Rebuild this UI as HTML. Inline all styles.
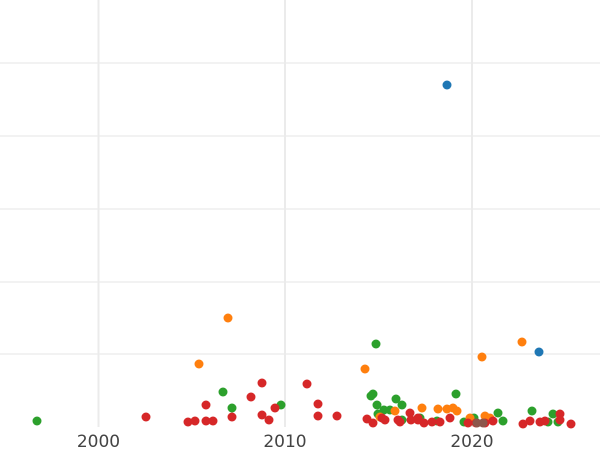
<!DOCTYPE html>
<html><head><meta charset="utf-8"><style>html,body{margin:0;padding:0;background:#fff}svg{display:block}</style></head>
<body>
<svg width="600" height="450" xmlns="http://www.w3.org/2000/svg">
<g stroke="#ebebeb" stroke-width="1.2">
<line x1="0" y1="63" x2="600" y2="63"/><line x1="0" y1="136" x2="600" y2="136"/><line x1="0" y1="209" x2="600" y2="209"/><line x1="0" y1="282" x2="600" y2="282"/><line x1="0" y1="354" x2="600" y2="354"/>
</g>
<g stroke="#ebebeb" stroke-width="2">
<line x1="98.5" y1="0" x2="98.5" y2="427"/><line x1="285" y1="0" x2="285" y2="427"/><line x1="472" y1="0" x2="472" y2="427"/>
</g>
<g font-family="DejaVu Sans, Liberation Sans, sans-serif" font-size="17" fill="#444" text-anchor="middle">
<text x="98.5" y="447">2000</text><text x="285" y="447">2010</text><text x="472" y="447">2020</text>
</g>
<g fill="#2ca02c">
<circle cx="37" cy="421" r="4.5"/><circle cx="223" cy="392" r="4.5"/><circle cx="232" cy="408" r="4.5"/><circle cx="281" cy="405" r="4.5"/>
<circle cx="376" cy="344" r="4.5"/><circle cx="371" cy="396" r="4.5"/><circle cx="373" cy="394" r="4.5"/><circle cx="377" cy="405" r="4.5"/><circle cx="378" cy="414" r="4.5"/><circle cx="384" cy="410" r="4.5"/><circle cx="390" cy="410" r="4.5"/><circle cx="396" cy="399" r="4.5"/><circle cx="402" cy="405" r="4.5"/><circle cx="402" cy="420" r="4.5"/><circle cx="420" cy="418" r="4.5"/><circle cx="456" cy="394" r="4.5"/><circle cx="464" cy="422" r="4.5"/><circle cx="469" cy="422" r="4.5"/><circle cx="474" cy="418" r="4.5"/><circle cx="498" cy="413" r="4.5"/><circle cx="503" cy="421" r="4.5"/><circle cx="532" cy="411" r="4.5"/><circle cx="553" cy="414" r="4.5"/><circle cx="558" cy="422" r="4.5"/><circle cx="548" cy="422" r="4.5"/><circle cx="437" cy="421" r="4.5"/>
</g>
<g fill="#ff7f0e">
<circle cx="199" cy="364" r="4.5"/><circle cx="228" cy="318" r="4.5"/><circle cx="365" cy="369" r="4.5"/><circle cx="482" cy="357" r="4.5"/><circle cx="522" cy="342" r="4.5"/>
<circle cx="380" cy="417" r="4.5"/><circle cx="395" cy="411" r="4.5"/><circle cx="422" cy="408" r="4.5"/><circle cx="438" cy="409" r="4.5"/><circle cx="447" cy="409" r="4.5"/><circle cx="453" cy="408" r="4.5"/><circle cx="457" cy="411" r="4.5"/><circle cx="470" cy="418" r="4.5"/><circle cx="485" cy="416" r="4.5"/><circle cx="490" cy="418" r="4.5"/>
</g>
<g fill="#d62728">
<circle cx="146" cy="417" r="4.5"/><circle cx="188" cy="422" r="4.5"/><circle cx="195" cy="421" r="4.5"/><circle cx="206" cy="405" r="4.5"/><circle cx="206" cy="421" r="4.5"/><circle cx="213" cy="421" r="4.5"/><circle cx="232" cy="417" r="4.5"/><circle cx="251" cy="397" r="4.5"/><circle cx="262" cy="383" r="4.5"/><circle cx="262" cy="415" r="4.5"/><circle cx="269" cy="420" r="4.5"/><circle cx="275" cy="408" r="4.5"/><circle cx="307" cy="384" r="4.5"/><circle cx="318" cy="404" r="4.5"/><circle cx="318" cy="416" r="4.5"/><circle cx="337" cy="416" r="4.5"/>
<circle cx="367" cy="419" r="4.5"/><circle cx="373" cy="423" r="4.5"/><circle cx="382" cy="418" r="4.5"/><circle cx="385" cy="420" r="4.5"/><circle cx="398" cy="420" r="4.5"/><circle cx="400" cy="422" r="4.5"/><circle cx="410" cy="413" r="4.5"/><circle cx="411" cy="420" r="4.5"/><circle cx="418" cy="418" r="4.5"/><circle cx="424" cy="423" r="4.5"/><circle cx="432" cy="422" r="4.5"/><circle cx="440" cy="422" r="4.5"/><circle cx="450" cy="418" r="4.5"/><circle cx="468" cy="423" r="4.5"/><circle cx="476" cy="423" r="4.5"/><circle cx="485" cy="423" r="4.5"/><circle cx="493" cy="421" r="4.5"/><circle cx="523" cy="424" r="4.5"/><circle cx="530" cy="421" r="4.5"/><circle cx="540" cy="422" r="4.5"/><circle cx="545" cy="421" r="4.5"/><circle cx="560" cy="414" r="4.5"/><circle cx="560" cy="420" r="4.5"/><circle cx="571" cy="424" r="4.5"/><circle cx="418" cy="420" r="4.5"/>
</g>
<g fill="#8c564b"><circle cx="477" cy="423" r="4.5"/><circle cx="483" cy="423" r="4.5"/></g>
<g fill="#1f77b4"><circle cx="447" cy="85" r="4.5"/><circle cx="539" cy="352" r="4.5"/></g>
</svg>
</body></html>
